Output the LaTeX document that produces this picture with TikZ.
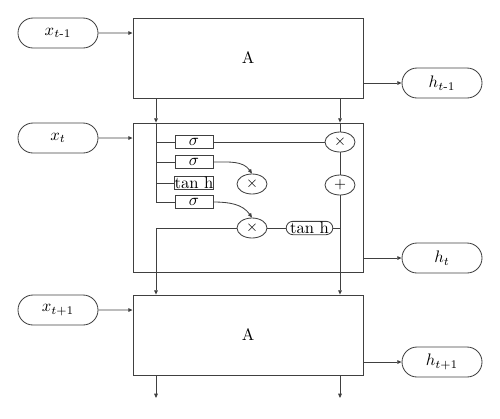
\documentclass[tikz,border=0pt]{standalone}
\usepackage{amsmath}
\usepackage{tikz}
\usetikzlibrary{shapes.geometric, shapes.misc, arrows.meta}
\definecolor{ln}{RGB}{64,64,64}

\begin{document}
\begin{tikzpicture}[x=0.6pt, y=-0.6pt, >={Triangle[length=2.6pt, width=2.2pt]}, line width=0.5pt,
  pill/.style={draw=ln, rounded rectangle, minimum width=48pt, minimum height=18pt, inner sep=0pt},
  blk/.style={draw=ln, rectangle, minimum width=138pt, inner sep=0pt},
  gate/.style={draw=ln, rectangle, minimum width=22.8pt, minimum height=7.6pt, inner sep=0.2pt},
  op/.style={draw=ln, ellipse, minimum width=18pt, minimum height=12pt, inner sep=0pt, font=\small},
  tnh/.style={draw=ln, rounded rectangle, minimum width=25.8pt, minimum height=8pt, inner sep=0.2pt}]

\useasboundingbox (0,0) rectangle (500,418);

% cells
\node[blk, minimum height=48pt] (A1) at (248,58) {A};
\node[blk, minimum height=89.4pt] (M) at (248,197.5) {};
\node[blk, minimum height=48pt] (A3) at (248,335) {A};

% inputs and outputs
\node[pill] (xa) at (58,33) {$x_{t\text{-}1}$};
\node[pill] (xb) at (58,138) {$x_t$};
\node[pill] (xc) at (58,310) {$x_{t+1}$};
\node[pill] (ha) at (442,83) {$h_{t\text{-}1}$};
\node[pill] (hb) at (442,258) {$h_t$};
\node[pill] (hc) at (442,362) {$h_{t+1}$};

\coordinate (cl) at (156,0);
\coordinate (cr) at (340,0);
\coordinate (el) at (156,398);
\coordinate (er) at (340,398);

% gates
\node[gate] (g1) at (194,142) {$\sigma$};
\node[gate] (g2) at (194,162) {$\sigma$};
\node[gate] (g3) at (194,183) {tan h};
\node[gate] (g4) at (194,202) {$\sigma$};
\node[op] (m1) at (340,142) {$\times$};
\node[op] (p1) at (340,185) {$+$};
\node[op] (m2) at (252,184) {$\times$};
\node[op] (m3) at (252,228) {$\times$};
\node[tnh] (t1) at (309.5,228) {tan h};

\begin{scope}[draw=ln]
\draw[->] (xa) -- (A1.west |- xa);
\draw[->] (xb) -- (M.west |- xb);
\draw[->] (xc) -- (A3.west |- xc);
\draw[->] (A1.east |- ha) -- (ha);
\draw[->] (M.east |- hb) -- (hb);
\draw[->] (A3.east |- hc) -- (hc);

\draw[->] (A1.south -| cl) -- (M.north -| cl);
\draw[->] (A1.south -| cr) -- (M.north -| cr);
\draw[->] (A3.south -| cl) -- (el);
\draw[->] (A3.south -| cr) -- (er);

\draw (M.north -| cl) -- (cl |- g4);
\foreach \g in {g1,g2,g3,g4}
  \draw (cl |- \g) -- (\g);
\draw (g1) -- (m1);
\draw[->] (g2.east) to[out=0, in=125] (m2.north);
\draw[->] (g4.east) to[out=0, in=125] (m3.north);

\draw (M.north -| cr) -- (m1);
\draw (m1) -- (p1);
\draw[->] (p1) -- (A3.north -| cr);
\draw (t1.east) -- (cr |- t1);
\draw (t1) -- (m3);
\draw[->] (m3) -| (A3.north -| cl);
\end{scope}

\end{tikzpicture}
\end{document}
